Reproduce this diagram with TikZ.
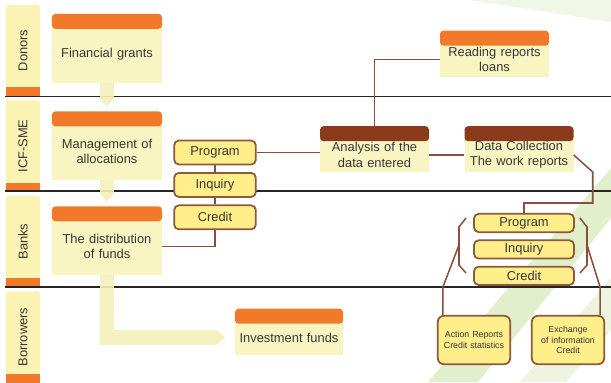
\documentclass[tikz,border=0pt]{standalone}
\usepackage{fontspec}
\setmainfont{Liberation Sans}
\usetikzlibrary{positioning,calc,arrows.meta}

\definecolor{hdrorange}{RGB}{240,122,42}
\definecolor{hdrbrown}{RGB}{140,58,28}
\definecolor{linkbrown}{RGB}{139,78,62}
\definecolor{itemfill}{RGB}{255,238,138}
\definecolor{itemdraw}{RGB}{139,90,58}
\definecolor{bodyfill}{RGB}{249,245,194}
\definecolor{lanefill}{RGB}{251,243,179}
\definecolor{flowfill}{RGB}{246,240,186}
\definecolor{swoosh}{RGB}{225,239,205}
\definecolor{textgray}{RGB}{55,55,55}

\begin{document}
\begin{tikzpicture}[x=0.03cm,y=-0.03cm]
% STYLES
\tikzset{%
    lanebar/.style={%
        rectangle,rounded corners=2pt,fill=lanefill,inner sep=0pt,
        minimum width=1.02cm,minimum height=2.73cm,
        font=\fontsize{11}{13}\selectfont,text=textgray
    },
    lanefoot/.style={rectangle,fill=hdrorange,inner sep=0pt,
        minimum width=1.02cm,minimum height=0.26cm},
    sepline/.style={draw=black!85,line width=1.6pt},
    body/.style={%
        rectangle,fill=bodyfill,inner sep=2pt,
        minimum width=3.3cm,minimum height=1.72cm,text width=3.1cm,
        align=center,font=\fontsize{11}{13}\selectfont,text=textgray
    },
    note/.style={body,minimum width=3.27cm,minimum height=1.04cm},
    hdr/.style={rectangle,rounded corners=3pt,fill=hdrorange,inner sep=0pt,
        minimum width=3.3cm,minimum height=0.45cm},
    item/.style={%
        rectangle,rounded corners=4pt,draw=itemdraw,line width=1.5pt,
        fill=itemfill,inner sep=1pt,
        font=\fontsize{11}{13}\selectfont,text=textgray
    },
    smallbox/.style={item,rounded corners=5pt,minimum width=2.17cm,
        minimum height=1.45cm,text width=2cm,align=center,
        font=\fontsize{7.5}{9}\selectfont},
    link/.style={draw=linkbrown,line width=1.3pt},
    flow/.style={draw=flowfill,line width=12pt,opacity=0.9,
        -{Triangle[length=8pt,width=13pt]}}
}
\fill[white] (0,0) rectangle (611,382);
\useasboundingbox (0,0) rectangle (611,382);
% Background swoosh
\fill[swoosh] (428,382) -- (611,168) -- (611,218) -- (478,382) -- cycle;
\fill[swoosh!60] (520,382) -- (611,278) -- (611,330) -- (566,382) -- cycle;
\fill[swoosh!50] (470,0) -- (611,0) -- (611,22) -- cycle;

% Draw lanes
\node [lanebar] (donors) at (23,50.5) {\rotatebox{90}{Donors}};
\node [lanefoot,anchor=south] (donors-foot) at (donors.south) {};
\node [lanebar] (icf) at (23,146) {\rotatebox{90}{ICF-SME}};
\node [lanefoot,anchor=south] (icf-foot) at (icf.south) {};
\node [lanebar] (banks) at (23,241.5) {\rotatebox{90}{Banks}};
\node [lanefoot,anchor=south] (banks-foot) at (banks.south) {};
\node [lanebar] (borrowers) at (23,337) {\rotatebox{90}{Borrowers}};
\node [lanefoot,anchor=south] (borrowers-foot) at (borrowers.south) {};
\draw[sepline] (5,96.5) -- (611,96.5);
\draw[sepline] (5,191) -- (611,191);
\draw[sepline] (5,287) -- (611,287);

% Draw the main boxes
\node [body] (grants) at (107,54) {Financial grants};
\node [hdr, above=-0.12cm of grants] (grants-hdr) {};
\node [body] (alloc) at (107,151.5) {Management of\\allocations};
\node [hdr, above=-0.12cm of alloc] (alloc-hdr) {};
\node [body] (distrib) at (107,246.5) {The distribution\\of funds};
\node [hdr, above=-0.12cm of distrib] (distrib-hdr) {};
\node [note,minimum width=3.24cm] (invest) at (289,337.5) {Investment funds};
\node [hdr,minimum width=3.24cm, above=-0.12cm of invest] (invest-hdr) {};
\node [note] (reading) at (494.5,59.5) {Reading reports\\loans};
\node [hdr,minimum width=3.27cm, above=-0.12cm of reading] (reading-hdr) {};
\node [note] (analysis) at (374.5,155) {Analysis of the\\data entered};
\node [hdr,fill=hdrbrown,minimum width=3.27cm, above=-0.12cm of analysis] (analysis-hdr) {};
\node [note] (collect) at (519,155) {Data Collection\\The work reports};
\node [hdr,fill=hdrbrown,minimum width=3.27cm, above=-0.12cm of collect] (collect-hdr) {};

% Draw the stacks
\node [item,minimum width=2.45cm,minimum height=0.72cm] (lprog) at (215,152.5) {Program};
\node [item,minimum width=2.45cm,minimum height=0.72cm, below=0.2cm of lprog] (linq) {Inquiry};
\node [item,minimum width=2.45cm,minimum height=0.72cm, below=0.2cm of linq] (lcred) {Credit};
\node [item,minimum width=3.0cm,minimum height=0.55cm] (rprog) at (524,223) {Program};
\node [item,minimum width=3.0cm,minimum height=0.55cm, below=0.19cm of rprog] (rinq) {Inquiry};
\node [item,minimum width=3.0cm,minimum height=0.55cm, below=0.19cm of rinq] (rcred) {Credit};
\node [smallbox] (action) at (474,340) {Action Reports\\Credit statistics};
\node [smallbox] (exchange) at (568,340) {Exchange\\of information\\Credit};

% Draw the flows
\draw[flow,shorten >=4pt] (grants.south) -- (alloc-hdr.north);
\draw[flow,shorten >=4pt] (alloc.south) -- (distrib-hdr.north);
\draw[flow,shorten >=8pt] (distrib.south) |- (invest.west);

% Draw the links between boxes
\path[link]
    (lprog) edge (linq)
    (linq) edge (lcred)
    (lprog.east) edge (lprog.east -| analysis.west)
    (analysis) edge (collect);
\draw[link] (lcred.south) |- (distrib.east);
\draw[link] (analysis-hdr.north) |- (reading.west);
\draw[link] (collect.east) -- ++(19,17) -- ++(0,31) -| (rprog.north);

% Brackets round the right stack
\draw[link] (466,218) -- (459,227) -- (459,265) -- (466,273);
\draw[link] (580,218) -- (587,227) -- (587,265) -- (580,273);
\coordinate (lbrace) at (459,245);
\coordinate (rbrace) at (587,245);
\draw[link] (lbrace) -- ($(action.north west)+(6,-28)$) -- ($(action.north west)+(6,0)$);
\draw[link] (rbrace) -- ($(exchange.north east)+(-5,-28)$) -- ($(exchange.north east)+(-5,0)$);
\end{tikzpicture}
\end{document}
